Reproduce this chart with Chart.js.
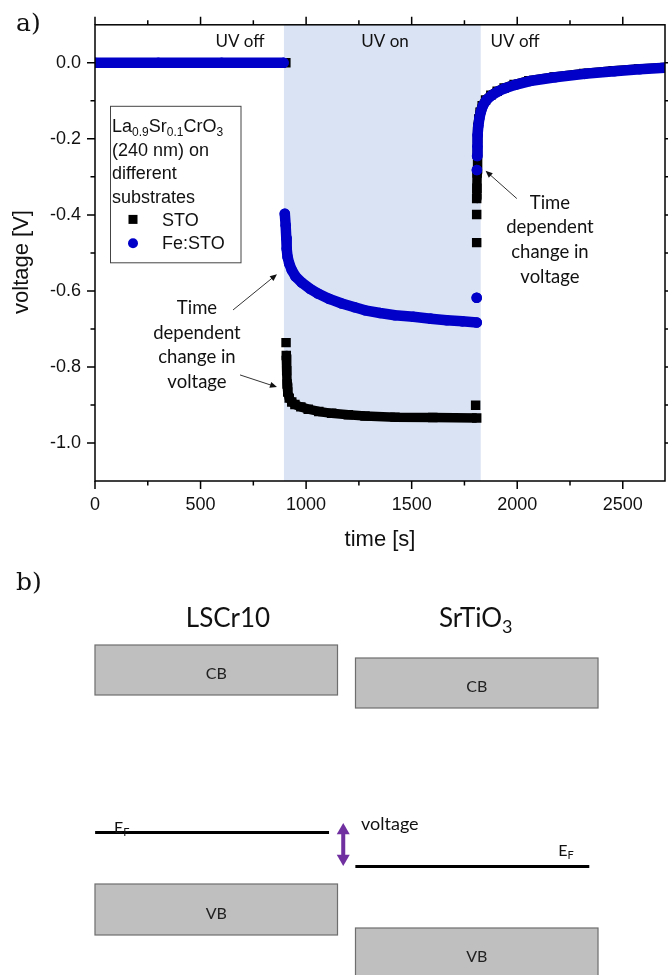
<!DOCTYPE html>
<html>
<head>
<meta charset="utf-8">
<script src="https://cdn.jsdelivr.net/npm/chart.js@4.4.1/dist/chart.umd.min.js"></script>
<style>
  html, body { margin: 0; padding: 0; background: #fff; }
  #wrap { position: relative; width: 668px; height: 975px; overflow: hidden; }
  #voltage-chart { position: absolute; left: 0; top: 0; }
  #band-chart { position: absolute; left: 0; top: 560px; }
</style>
</head>
<body>
<div id="wrap">
  <canvas id="voltage-chart" width="668" height="560"></canvas>
  <canvas id="band-chart" width="668" height="415"></canvas>
</div>
<script>
// ---- panel a: axes ----
const timeTicks = [0, 500, 1000, 1500, 2000, 2500];
const timeMinorTicks = [250, 750, 1250, 1750, 2250];
const voltTicks = [-1.0, -0.8, -0.6, -0.4, -0.2, 0.0];
const voltMinorTicks = [-0.9, -0.7, -0.5, -0.3, -0.1];

// UV illumination window and the phase labels
const uvOnWindow = [895, 1827];
const phaseLabels = ["UV off", "UV on", "UV off"];
const phaseCentres = [687, 1374, 1990];

// ---- panel a: Fe:STO (blue circles) ----
const feOffTime = [0, 300, 600, 893];
const feOffVolt = [0, 0, 0, 0];
const feOnTime = [899, 903, 906, 908, 912, 920, 932, 950, 979, 1020, 1056, 1110, 1169, 1230, 1279, 1350, 1421, 1508, 1590, 1666, 1740, 1808];
const feOnVolt = [-0.397, -0.427, -0.46, -0.489, -0.51, -0.528, -0.545, -0.562, -0.578, -0.595, -0.607, -0.621, -0.633, -0.643, -0.651, -0.658, -0.664, -0.668, -0.673, -0.677, -0.680, -0.683];
const feLoneTime = [1808, 1809];
const feLoneVolt = [-0.618, -0.282];
const feRecTime = [1810, 1811, 1813, 1816, 1821, 1828, 1838, 1855, 1880, 1910, 1942, 1990, 2060, 2180, 2320, 2460, 2580, 2700];
const feRecVolt = [-0.245, -0.22, -0.19, -0.165, -0.145, -0.128, -0.112, -0.097, -0.085, -0.075, -0.067, -0.058, -0.048, -0.038, -0.029, -0.022, -0.017, -0.013];

// ---- panel a: STO (black squares) ----
const stoOffTime = [0, 450, 904];
const stoOffVolt = [0, 0, 0];
const stoOnTime = [906, 908, 910, 913, 920, 932, 947, 975, 1010, 1060, 1121, 1200, 1279, 1421, 1600, 1808];
const stoOnVolt = [-0.77, -0.81, -0.845, -0.866, -0.882, -0.892, -0.899, -0.905, -0.911, -0.917, -0.922, -0.926, -0.929, -0.932, -0.933, -0.934];
const stoLoneTime = [905, 1803, 1808, 1808];
const stoLoneVolt = [-0.736, -0.901, -0.473, -0.399];
const stoRecTime = [1808, 1809, 1810, 1811, 1812, 1814, 1818, 1824, 1834, 1850, 1875, 1905, 1938, 1985, 2055, 2175, 2315, 2455, 2575, 2700];
const stoRecVolt = [-0.357, -0.33, -0.29, -0.24, -0.20, -0.17, -0.148, -0.13, -0.113, -0.098, -0.085, -0.075, -0.066, -0.057, -0.047, -0.037, -0.028, -0.021, -0.016, -0.012];

// ---- panel b: band diagram ----
const bandNames = ["LSCr10", "SrTiO3"];
const cbEdges = [[-1.0, 0.0], [-1.26, -0.26]];
const vbEdges = [[-5.8, -4.78], [-6.66, -5.66]];
const fermiLevel = [-3.75, -4.43];
const fermiSpan = [[-0.465, 0.433], [0.534, 1.432]];
const voltageArrow = [-3.71, -4.27];
const voltageArrowPos = 0.4875;

const SANS = "'Liberation Sans', Arial, sans-serif";
const CAL = "Lato, 'Open Sans', sans-serif";
const SERIF = "'DejaVu Serif', serif";

// join segments into one dataset, with a null point between them so the band breaks
function buildSeries(segments) {
    const pts = [];
    segments.forEach((seg, k) => {
        if (k > 0) pts.push({x: seg[0][0], y: null});
        seg[0].forEach((t, i) => pts.push({x: t, y: seg[1][i]}));
    });
    return pts;
}

const feData = buildSeries([
    [feOffTime, feOffVolt],
    [feOnTime, feOnVolt],
    ...feLoneTime.map((t, i) => [[t], [feLoneVolt[i]]]),
    [feRecTime, feRecVolt]
]);

const stoData = buildSeries([
    [stoOffTime, stoOffVolt],
    ...stoLoneTime.map((t, i) => [[t], [stoLoneVolt[i]]]),
    [stoOnTime, stoOnVolt],
    [stoRecTime, stoRecVolt]
]);

function drawArrow(ctx, x0, y0, x1, y1) {
    const a = Math.atan2(y1 - y0, x1 - x0);
    const c = Math.cos(a), s = Math.sin(a);
    ctx.save();
    ctx.strokeStyle = "#333";
    ctx.fillStyle = "#111";
    ctx.lineWidth = 1;
    ctx.beginPath();
    ctx.moveTo(x0, y0);
    ctx.lineTo(x1 - 5 * c, y1 - 5 * s);
    ctx.stroke();
    ctx.beginPath();
    ctx.moveTo(x1, y1);
    ctx.lineTo(x1 - 7 * c + 3 * s, y1 - 7 * s - 3 * c);
    ctx.lineTo(x1 - 7 * c - 3 * s, y1 - 7 * s + 3 * c);
    ctx.closePath();
    ctx.fill();
    ctx.restore();
}

// text made of pieces, some of them subscript
function drawRich(ctx, parts, x, y, size, subSize, subDrop, family) {
    let cx = x;
    parts.forEach(([txt, sub]) => {
        ctx.font = (sub ? subSize : size) + "px " + family;
        ctx.fillText(txt, cx, sub ? y + subDrop : y);
        cx += ctx.measureText(txt).width;
    });
}

const panelADecor = {
    id: "panelADecor",
    beforeDatasetsDraw(chart) {
        const {ctx, chartArea: a, scales: {x}} = chart;
        const x0 = x.getPixelForValue(uvOnWindow[0]);
        const x1 = x.getPixelForValue(uvOnWindow[1]);
        ctx.save();
        ctx.fillStyle = "#dae3f3";
        ctx.fillRect(x0, a.top, x1 - x0, a.bottom - a.top);
        ctx.restore();
    },
    afterDatasetsDraw(chart) {
        const {ctx, chartArea: a, scales: {x, y}} = chart;
        ctx.save();

        // frame and ticks (outward, all four sides)
        ctx.strokeStyle = "#000";
        ctx.lineWidth = 1.5;
        ctx.strokeRect(a.left, a.top, a.right - a.left, a.bottom - a.top);
        ctx.beginPath();
        const xt = (list, len) => list.forEach(v => {
            const px = x.getPixelForValue(v);
            ctx.moveTo(px, a.bottom); ctx.lineTo(px, a.bottom + len);
            ctx.moveTo(px, a.top); ctx.lineTo(px, a.top - len);
        });
        const yt = (list, len) => list.forEach(v => {
            const py = y.getPixelForValue(v);
            ctx.moveTo(a.left, py); ctx.lineTo(a.left - len, py);
            ctx.moveTo(a.right, py); ctx.lineTo(a.right + len, py);
        });
        xt(timeTicks, 8); xt(timeMinorTicks, 4.5);
        yt(voltTicks, 8); yt(voltMinorTicks, 4.5);
        ctx.stroke();

        // UV phase labels
        ctx.fillStyle = "#111";
        ctx.textAlign = "center";
        ctx.textBaseline = "middle";
        ctx.font = "17px " + CAL;
        phaseLabels.forEach((lab, i) => ctx.fillText(lab, x.getPixelForValue(phaseCentres[i]), a.top + 17));

        // annotations
        ctx.font = "18.5px " + CAL;
        const note = ["Time", "dependent", "change in", "voltage"];
        const leftX = x.getPixelForValue(483), leftY = y.getPixelForValue(-0.645);
        const rightX = x.getPixelForValue(2155), rightY = y.getPixelForValue(-0.368);
        note.forEach((l, i) => {
            ctx.fillText(l, leftX, leftY + i * 24.7);
            ctx.fillText(l, rightX, rightY + i * 24.7);
        });
        drawArrow(ctx, x.getPixelForValue(654), y.getPixelForValue(-0.650), x.getPixelForValue(862), y.getPixelForValue(-0.556));
        drawArrow(ctx, x.getPixelForValue(687), y.getPixelForValue(-0.821), x.getPixelForValue(862), y.getPixelForValue(-0.853));
        drawArrow(ctx, x.getPixelForValue(1998), y.getPixelForValue(-0.357), x.getPixelForValue(1850), y.getPixelForValue(-0.284));

        // legend box
        const lx = a.left + 15, ly = a.top + 81;
        ctx.fillStyle = "#fff";
        ctx.fillRect(lx, ly, 131, 157);
        ctx.strokeStyle = "#444";
        ctx.lineWidth = 1;
        ctx.strokeRect(lx + 0.5, ly + 0.5, 130.5, 156.5);
        ctx.fillStyle = "#111";
        ctx.textAlign = "left";
        ctx.textBaseline = "alphabetic";
        const tx = lx + 2, b0 = ly + 26.5, lh = 23.4;
        drawRich(ctx, [["La", false], ["0.9", true], ["Sr", false], ["0.1", true], ["CrO", false], ["3", true]], tx, b0, 18, 12, 4, SANS);
        ctx.font = "18px " + SANS;
        ctx.fillText("(240 nm) on", tx, b0 + lh);
        ctx.fillText("different", tx, b0 + 2 * lh);
        ctx.fillText("substrates", tx, b0 + 3 * lh);
        ctx.fillText("STO", lx + 52, b0 + 4 * lh);
        ctx.fillText("Fe:STO", lx + 52, b0 + 5 * lh);
        ctx.fillStyle = "#000";
        ctx.fillRect(lx + 23 - 4.5, b0 + 4 * lh - 6.5 - 4.5, 9, 9);
        ctx.fillStyle = "#0000c8";
        ctx.beginPath();
        ctx.arc(lx + 23, b0 + 5 * lh - 6, 5, 0, Math.PI * 2);
        ctx.fill();

        // axis titles and panel letter
        ctx.fillStyle = "#111";
        ctx.textAlign = "center";
        ctx.textBaseline = "middle";
        ctx.font = "22px " + SANS;
        ctx.fillText("time [s]", 380, 540);
        ctx.save();
        ctx.translate(22, 262);
        ctx.rotate(-Math.PI / 2);
        ctx.fillText("voltage [V]", 0, 0);
        ctx.restore();
        ctx.textAlign = "left";
        ctx.textBaseline = "alphabetic";
        ctx.font = "25px " + SERIF;
        ctx.fillText("a)", 16, 31);
        ctx.restore();
    }
};

new Chart(document.getElementById("voltage-chart"), {
    type: "scatter",
    data: {
        datasets: [{
            label: "Fe:STO",
            data: feData,
            showLine: true,
            borderColor: "#0000c8",
            backgroundColor: "#0000c8",
            borderWidth: 10.5,
            borderCapStyle: "round",
            borderJoinStyle: "round",
            pointStyle: "circle",
            pointRadius: 5.3,
            pointBorderWidth: 0,
            spanGaps: false,
            clip: 0
        }, {
            label: "STO",
            data: stoData,
            showLine: true,
            borderColor: "#000",
            backgroundColor: "#000",
            borderWidth: 9.5,
            borderCapStyle: "butt",
            borderJoinStyle: "round",
            pointStyle: "rect",
            pointRadius: 6.7,
            pointBorderWidth: 0,
            spanGaps: false,
            clip: 0
        }]
    },
    options: {
        responsive: false,
        animation: false,
        events: [],
        layout: { autoPadding: false, padding: { left: 0, right: 3, top: 23, bottom: 0 } },
        plugins: { legend: { display: false }, tooltip: { enabled: false } },
        scales: {
            x: {
                type: "linear",
                min: 0,
                max: 2700,
                afterBuildTicks: s => { s.ticks = timeTicks.map(v => ({value: v})); },
                afterFit: s => { s.height = 79; },
                grid: { display: false, drawTicks: false },
                border: { display: false },
                ticks: { font: { family: SANS, size: 18 }, color: "#111", padding: 13, maxRotation: 0, autoSkip: false, callback: v => String(v) }
            },
            y: {
                min: -1.1,
                max: 0.1,
                afterBuildTicks: s => { s.ticks = voltTicks.map(v => ({value: v})); },
                afterFit: s => { s.width = 95; },
                grid: { display: false, drawTicks: false },
                border: { display: false },
                ticks: { font: { family: SANS, size: 18 }, color: "#111", padding: 14, callback: v => v.toFixed(1) }
            }
        }
    },
    plugins: [panelADecor]
});

// ---- panel b ----
const panelBDecor = {
    id: "panelBDecor",
    afterDatasetsDraw(chart) {
        const {ctx, scales: {xs, y}} = chart;
        ctx.save();

        // outline of each band box
        ctx.strokeStyle = "#6e6e6e";
        ctx.lineWidth = 1.2;
        [0, 1].forEach(d => {
            chart.getDatasetMeta(d).data.forEach(bar => {
                const top = Math.min(bar.y, bar.base), h = Math.abs(bar.base - bar.y);
                ctx.strokeRect(bar.x - bar.width / 2, top, bar.width, h);
            });
        });

        ctx.fillStyle = "#222";
        ctx.textAlign = "center";
        ctx.textBaseline = "middle";
        ctx.font = "16px " + CAL;
        [0, 1].forEach(d => {
            chart.getDatasetMeta(d).data.forEach(bar => {
                ctx.fillText(chart.data.datasets[d].label, bar.x, (bar.y + bar.base) / 2 + 4);
            });
        });

        ctx.textBaseline = "alphabetic";
        ctx.fillStyle = "#111";
        ctx.font = "26px " + CAL;
        ctx.textAlign = "center";
        ctx.fillText(bandNames[0], 228, 67);
        ctx.textAlign = "left";
        drawRich(ctx, [["SrTiO", false], ["3", true]], 439, 67, 26, 18, 6, CAL);

        // Fermi level labels and the voltage label
        drawRich(ctx, [["E", false], ["F", true]], xs.getPixelForValue(fermiSpan[0][0]) + 19, y.getPixelForValue(fermiLevel[0]), 16, 11, 3, CAL);
        drawRich(ctx, [["E", false], ["F", true]], xs.getPixelForValue(fermiSpan[1][1]) - 31, y.getPixelForValue(fermiLevel[1]) - 11, 16, 11, 3, CAL);
        ctx.font = "18px " + CAL;
        ctx.textBaseline = "middle";
        ctx.fillText("voltage", 361, y.getPixelForValue(voltageArrow[0]) - 6);

        ctx.textBaseline = "alphabetic";
        ctx.font = "25px " + SERIF;
        ctx.fillText("b)", 16, 30);
        ctx.restore();
    }
};

new Chart(document.getElementById("band-chart"), {
    type: "bar",
    data: {
        labels: bandNames,
        datasets: [{
            label: "CB",
            data: cbEdges,
            backgroundColor: "#bfbfbf",
            borderWidth: 0,
            barPercentage: 0.931,
            categoryPercentage: 1,
            grouped: false
        }, {
            label: "VB",
            data: vbEdges,
            backgroundColor: "#bfbfbf",
            borderWidth: 0,
            barPercentage: 0.931,
            categoryPercentage: 1,
            grouped: false
        }, {
            type: "line",
            label: "EF LSCr10",
            xAxisID: "xs",
            data: fermiSpan[0].map(v => ({x: v, y: fermiLevel[0]})),
            borderColor: "#000",
            borderWidth: 3,
            pointRadius: 0
        }, {
            type: "line",
            label: "EF SrTiO3",
            xAxisID: "xs",
            data: fermiSpan[1].map(v => ({x: v, y: fermiLevel[1]})),
            borderColor: "#000",
            borderWidth: 3,
            pointRadius: 0
        }, {
            type: "line",
            label: "voltage",
            xAxisID: "xs",
            data: voltageArrow.map(v => ({x: voltageArrowPos, y: v})),
            borderColor: "#7030a0",
            borderWidth: 4,
            pointStyle: "triangle",
            pointRadius: 7.5,
            pointRotation: [0, 180],
            pointBackgroundColor: "#7030a0",
            pointBorderWidth: 0
        }]
    },
    options: {
        responsive: false,
        animation: false,
        events: [],
        layout: { autoPadding: false, padding: { left: 86, right: 61, top: 40, bottom: 0 } },
        plugins: { legend: { display: false }, tooltip: { enabled: false } },
        scales: {
            x: { type: "category", display: false, offset: true },
            xs: { type: "linear", display: false, offset: false, min: -0.5, max: 1.5 },
            y: { display: false, min: -6.6, max: 0.9 }
        }
    },
    plugins: [panelBDecor]
});
</script>
</body>
</html>
